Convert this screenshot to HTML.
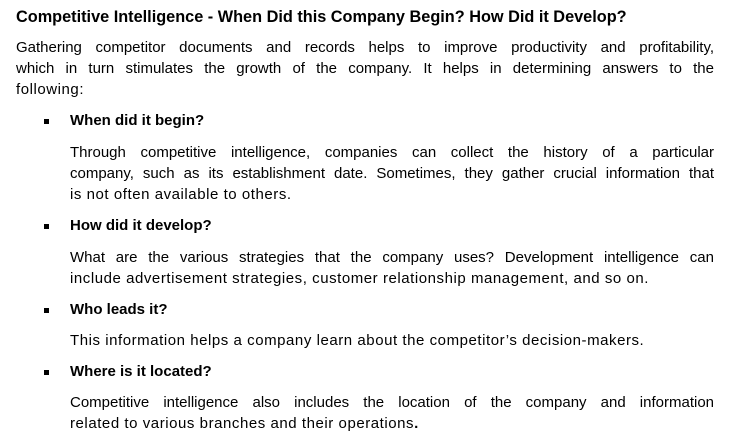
<!DOCTYPE html>
<html>
<head>
<meta charset="utf-8">
<style>
  html,body{margin:0;padding:0;background:#fff;}
  body{width:734px;height:437px;position:relative;overflow:hidden;
       font-family:"Liberation Sans",Arial,sans-serif;color:#000;}
  .ln{position:absolute;font-size:15px;line-height:18px;white-space:nowrap;}
  .j{text-align:justify;text-align-last:justify;white-space:normal;height:18px;overflow:hidden;}
  .b{font-weight:bold;}
  .n{letter-spacing:0.55px;}
  .blt{position:absolute;width:5px;height:5px;background:#000;}
</style>
</head>
<body>
  <div class="ln b" style="left:16px;top:8px;font-size:16.3px;">Competitive Intelligence - When Did this Company Begin? How Did it Develop?</div>

  <div>
    <div class="ln j" style="left:16px;top:39px;width:698px;">Gathering competitor documents and records helps to improve productivity and profitability,</div>
    <div class="ln j" style="left:16px;top:60px;width:698px;">which in turn stimulates the growth of the company. It helps in determining answers to the</div>
    <div class="ln n" style="left:16px;top:81px;">following:</div>
  </div>

  <div>
    <div class="blt" style="left:44px;top:119px;"></div>
    <div class="ln b" style="left:70px;top:112px;">When did it begin?</div>
    <div class="ln j" style="left:70px;top:144px;width:644px;">Through competitive intelligence, companies can collect the history of a particular</div>
    <div class="ln j" style="left:70px;top:165px;width:644px;">company, such as its establishment date. Sometimes, they gather crucial information that</div>
    <div class="ln n" style="left:70px;top:186px;">is not often available to others.</div>
  </div>

  <div>
    <div class="blt" style="left:44px;top:224px;"></div>
    <div class="ln b" style="left:70px;top:217px;">How did it develop?</div>
    <div class="ln j" style="left:70px;top:249px;width:644px;">What are the various strategies that the company uses? Development intelligence can</div>
    <div class="ln n" style="left:70px;top:270px;">include advertisement strategies, customer relationship management, and so on.</div>
  </div>

  <div>
    <div class="blt" style="left:44px;top:308px;"></div>
    <div class="ln b" style="left:70px;top:301px;">Who leads it?</div>
    <div class="ln n" style="left:70px;top:332px;">This information helps a company learn about the competitor’s decision-makers.</div>
  </div>

  <div>
    <div class="blt" style="left:44px;top:370px;"></div>
    <div class="ln b" style="left:70px;top:363px;">Where is it located?</div>
    <div class="ln j" style="left:70px;top:394px;width:644px;">Competitive intelligence also includes the location of the company and information</div>
    <div class="ln n" style="left:70px;top:415px;">related to various branches and their operations<b>.</b></div>
  </div>
</body>
</html>
